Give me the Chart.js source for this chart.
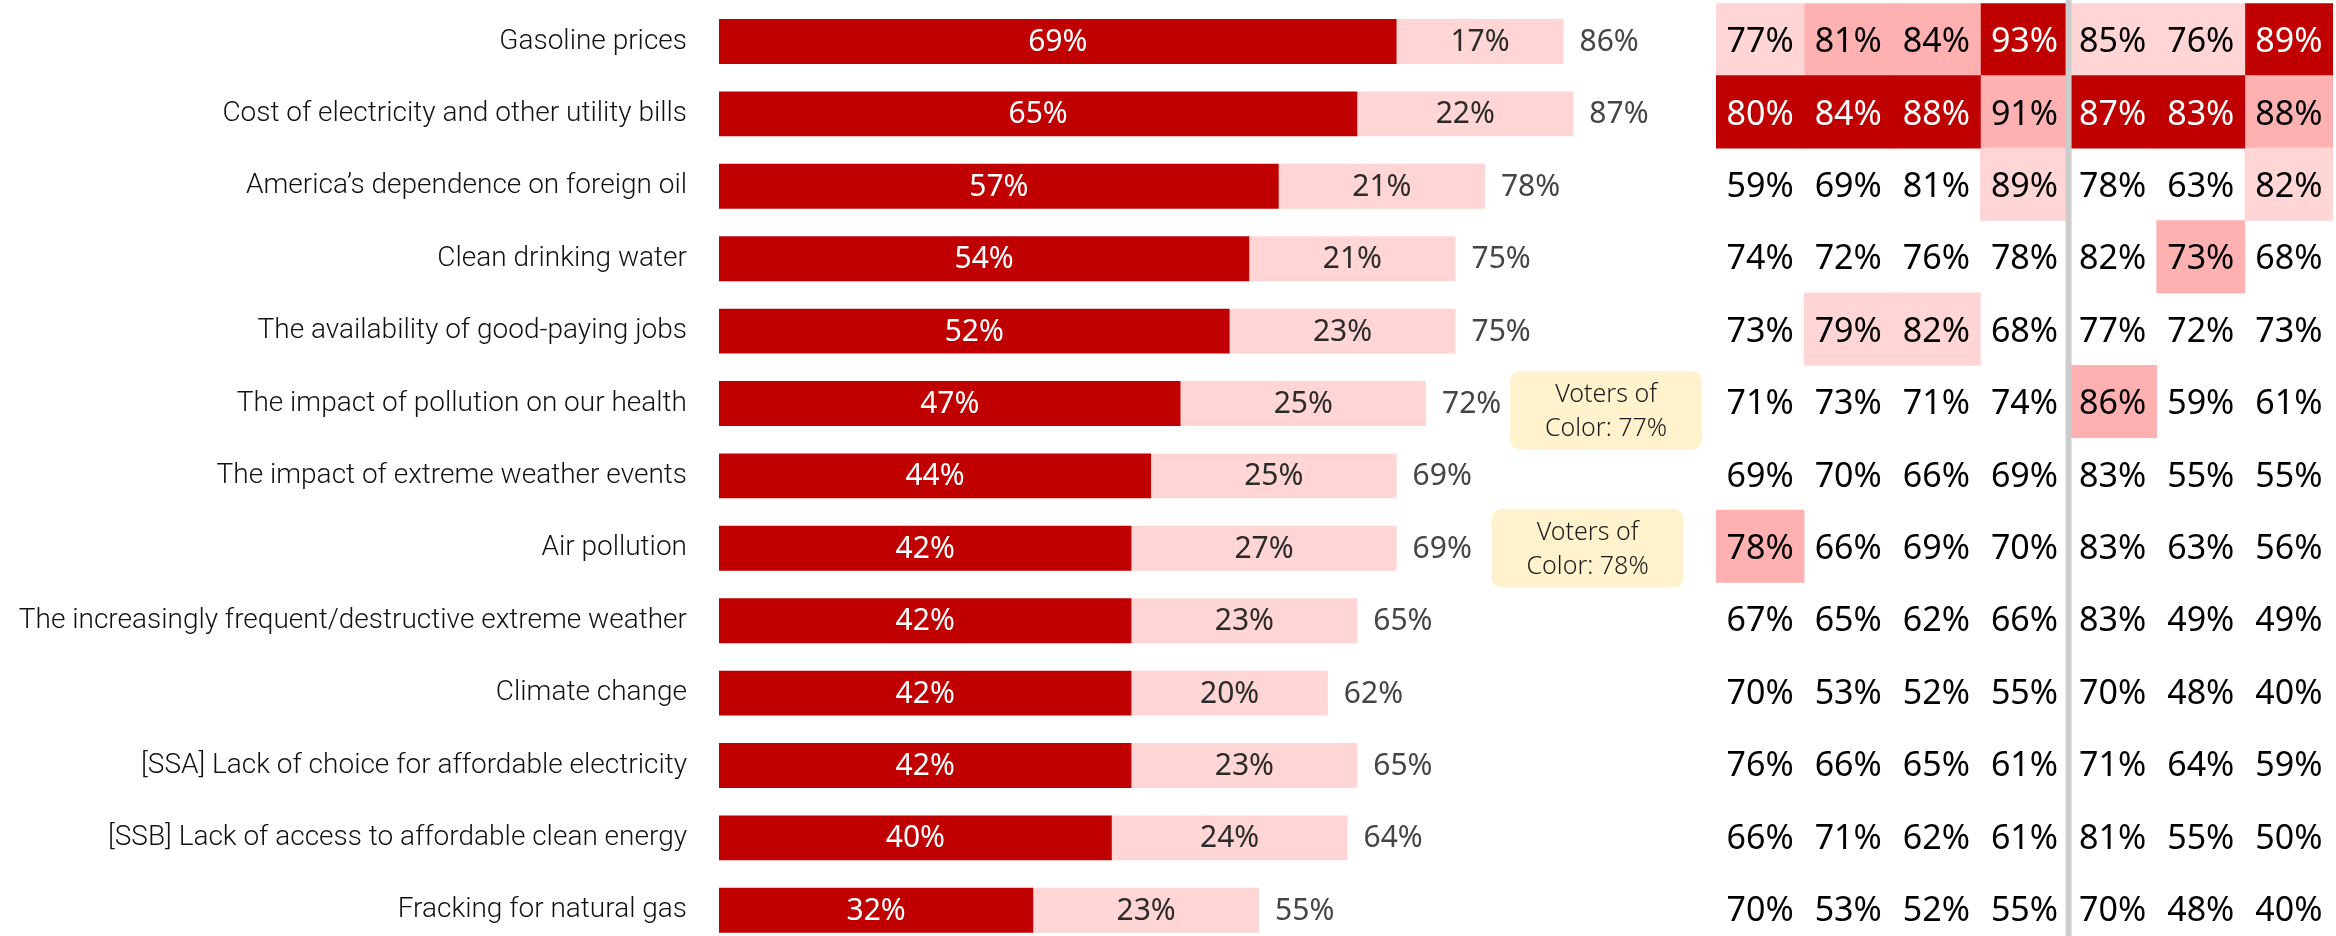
<!DOCTYPE html>
<html>
<head>
<meta charset="utf-8">
<title>Energy and environment concerns</title>
<script src="https://cdn.jsdelivr.net/npm/chart.js@4.4.1/dist/chart.umd.min.js"></script>
<style>
  html, body { margin: 0; padding: 0; background: #fff; overflow: hidden; }
  #wrap { position: relative; width: 2336px; height: 936px; overflow: hidden; }
  canvas { position: absolute; top: 0; }
  #bars { left: 0; }
  #heat { left: 1700px; }
</style>
</head>
<body>
<div id="wrap">
  <canvas id="bars" width="1716" height="950"></canvas>
  <canvas id="heat" width="636" height="950"></canvas>
</div>
<script>
const issues = [
  'Gasoline prices',
  'Cost of electricity and other utility bills',
  'America\u2019s dependence on foreign oil',
  'Clean drinking water',
  'The availability of good-paying jobs',
  'The impact of pollution on our health',
  'The impact of extreme weather events',
  'Air pollution',
  'The increasingly frequent/destructive extreme weather',
  'Climate change',
  '[SSA] Lack of choice for affordable electricity',
  '[SSB] Lack of access to affordable clean energy',
  'Fracking for natural gas'
];

// share of voters very / somewhat concerned
const veryPct     = [69, 65, 57, 54, 52, 47, 44, 42, 42, 42, 42, 40, 32];
const somewhatPct = [17, 22, 21, 21, 23, 25, 25, 27, 23, 20, 23, 24, 23];

// subgroup totals, one row per issue (4 groups | 3 groups)
const heatValues = [
  [77, 81, 84, 93, 85, 76, 89],
  [80, 84, 88, 91, 87, 83, 88],
  [59, 69, 81, 89, 78, 63, 82],
  [74, 72, 76, 78, 82, 73, 68],
  [73, 79, 82, 68, 77, 72, 73],
  [71, 73, 71, 74, 86, 59, 61],
  [69, 70, 66, 69, 83, 55, 55],
  [78, 66, 69, 70, 83, 63, 56],
  [67, 65, 62, 66, 83, 49, 49],
  [70, 53, 52, 55, 70, 48, 40],
  [76, 66, 65, 61, 71, 64, 59],
  [66, 71, 62, 61, 81, 55, 50],
  [70, 53, 52, 55, 70, 48, 40]
];

// highlight level per cell: 0 none, 1 third, 2 second, 3 top
const heatShade = [
  [1, 2, 2, 3, 1, 1, 3],
  [3, 3, 3, 2, 3, 3, 2],
  [0, 0, 0, 1, 0, 0, 1],
  [0, 0, 0, 0, 0, 2, 0],
  [0, 1, 1, 0, 0, 0, 0],
  [0, 0, 0, 0, 2, 0, 0],
  [0, 0, 0, 0, 0, 0, 0],
  [2, 0, 0, 0, 0, 0, 0],
  [0, 0, 0, 0, 0, 0, 0],
  [0, 0, 0, 0, 0, 0, 0],
  [0, 0, 0, 0, 0, 0, 0],
  [0, 0, 0, 0, 0, 0, 0],
  [0, 0, 0, 0, 0, 0, 0]
];

const callouts = [
  { row: 5, lines: ['Voters of', 'Color: 77%'], dx: 84, dy: 7 },
  { row: 7, lines: ['Voters of', 'Color: 78%'], dx: 95, dy: 0 }
];

const RED = '#C00000';
const PINK = '#FFD5D5';
const shadeFill = ['rgba(0,0,0,0)', '#FFD5D5', '#FFB0B0', '#C00000'];
const NUM_FONT = '"Noto Sans", sans-serif';
const LABEL_FONT = 'Roboto, sans-serif';

function roundBox(ctx, x, y, w, h, r) {
  ctx.beginPath();
  ctx.moveTo(x + r, y);
  ctx.lineTo(x + w - r, y);
  ctx.quadraticCurveTo(x + w, y, x + w, y + r);
  ctx.lineTo(x + w, y + h - r);
  ctx.quadraticCurveTo(x + w, y + h, x + w - r, y + h);
  ctx.lineTo(x + r, y + h);
  ctx.quadraticCurveTo(x, y + h, x, y + h - r);
  ctx.lineTo(x, y + r);
  ctx.quadraticCurveTo(x, y, x + r, y);
  ctx.closePath();
}

// values inside the segments, totals after the bars, callout boxes
const barLabels = {
  id: 'barLabels',
  afterDatasetsDraw(chart) {
    const ctx = chart.ctx;
    const dark = chart.getDatasetMeta(0).data;
    const light = chart.getDatasetMeta(1).data;
    ctx.save();
    ctx.font = '30px ' + NUM_FONT;
    ctx.textBaseline = 'middle';
    dark.forEach((el, i) => {
      const l = light[i];
      ctx.textAlign = 'center';
      ctx.fillStyle = '#fff';
      ctx.fillText(veryPct[i] + '%', (el.x + el.base) / 2, el.y + 1);
      ctx.fillStyle = '#2b2b2b';
      ctx.fillText(somewhatPct[i] + '%', (l.x + l.base) / 2, l.y + 1);
      ctx.textAlign = 'left';
      ctx.fillStyle = '#454545';
      ctx.fillText((veryPct[i] + somewhatPct[i]) + '%', l.x + 16, l.y + 1);
    });

    ctx.textAlign = 'center';
    callouts.forEach(c => {
      const end = light[c.row];
      const w = 192, h = 79;
      const x = end.x + c.dx;
      const y = end.y - h / 2 + c.dy;
      roundBox(ctx, x, y, w, h, 12);
      ctx.fillStyle = '#FFF2CC';
      ctx.fill();
      ctx.fillStyle = '#1a1a1a';
      ctx.font = '300 25px ' + NUM_FONT;
      ctx.textBaseline = 'alphabetic';
      ctx.fillText(c.lines[0], x + w / 2, y + 31);
      ctx.fillText(c.lines[1], x + w / 2, y + 65);
    });
    ctx.restore();
  }
};

new Chart(document.getElementById('bars'), {
  type: 'bar',
  data: {
    labels: issues,
    datasets: [
      { label: 'Very', data: veryPct, backgroundColor: RED },
      { label: 'Somewhat', data: somewhatPct, backgroundColor: PINK }
    ]
  },
  options: {
    indexAxis: 'y',
    responsive: false,
    animation: false,
    layout: { padding: { top: 5.3, bottom: 3.5, left: 0, right: 15 } },
    datasets: { bar: { barPercentage: 0.62, categoryPercentage: 1 } },
    plugins: { legend: { display: false }, tooltip: { enabled: false } },
    scales: {
      x: { stacked: true, min: 0, max: 100, display: false },
      y: {
        stacked: true,
        border: { display: false },
        grid: { display: false, drawTicks: false },
        ticks: {
          padding: 32,
          color: '#111',
          font: { family: LABEL_FONT, size: 28, weight: 300 }
        },
        afterFit(scale) {
          scale.width = 719;
          scale.paddingTop = 0;
          scale.paddingBottom = 0;
        }
      }
    }
  },
  plugins: [barLabels]
});

// heatmap: one floating bar per cell, values written on top
const heatLabels = {
  id: 'heatLabels',
  afterDatasetsDraw(chart) {
    const ctx = chart.ctx;
    const xs = chart.scales.x;
    ctx.save();
    ctx.font = '34px ' + NUM_FONT;
    ctx.textAlign = 'center';
    ctx.textBaseline = 'middle';
    chart.data.datasets.forEach((ds, c) => {
      chart.getDatasetMeta(c).data.forEach((el, r) => {
        ctx.fillStyle = heatShade[r][c] === 3 ? '#fff' : '#000';
        ctx.fillText(heatValues[r][c] + '%', (el.x + el.base) / 2, el.y + 3);
      });
    });
    // divider between the two group sets
    const dx = xs.getPixelForValue(4);
    ctx.fillStyle = '#CCCCCC';
    ctx.fillRect(dx - 3, 0, 6, chart.height);
    ctx.restore();
  }
};

const heatColumns = heatValues[0].map((_, c) => ({
  data: issues.map(() => [c, c + 1]),
  backgroundColor: ctx => shadeFill[heatShade[ctx.dataIndex][c]],
  barPercentage: 1,
  categoryPercentage: 1,
  grouped: false
}));

new Chart(document.getElementById('heat'), {
  type: 'bar',
  data: { labels: issues, datasets: heatColumns },
  options: {
    indexAxis: 'y',
    responsive: false,
    animation: false,
    layout: { padding: { top: 3.3, bottom: 5.5, left: 16, right: 3 } },
    plugins: { legend: { display: false }, tooltip: { enabled: false } },
    scales: {
      x: { min: 0, max: 7, display: false },
      y: { display: false }
    }
  },
  plugins: [heatLabels]
});
</script>
</body>
</html>
